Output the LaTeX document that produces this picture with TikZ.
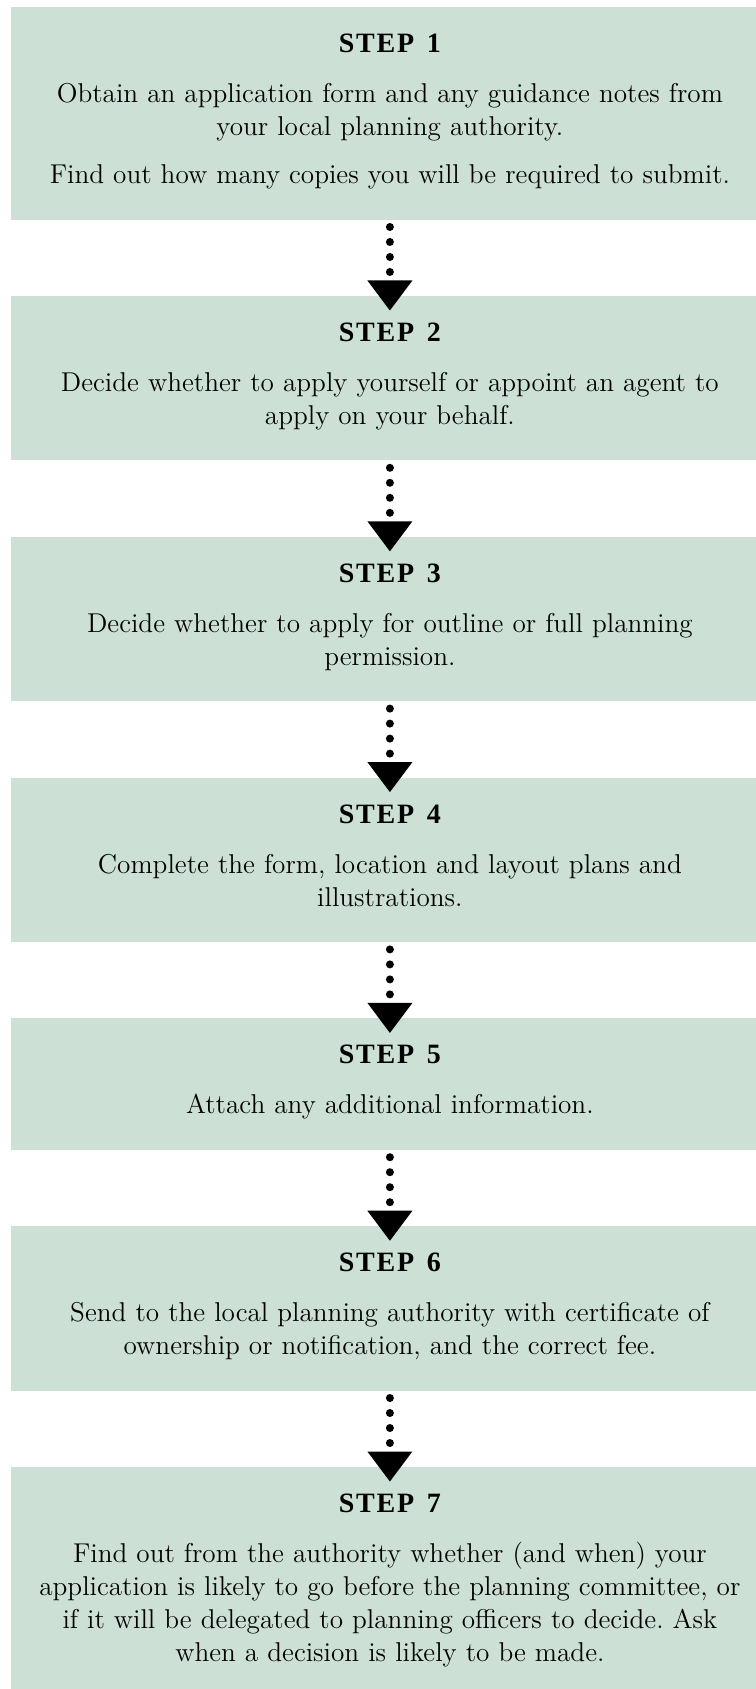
\documentclass[tikz,border=0pt]{standalone}
\usepackage{fontspec}
\setmainfont{Latin Modern Roman}
\newfontfamily\headfont{Liberation Serif}
\usetikzlibrary{arrows.meta, positioning}

\definecolor{boxgreen}{RGB}{204,224,214}
% heading of a step, letter spaced
\newcommand{\stephead}[1]{{\headfont\bfseries\fontsize{14pt}{16pt}\selectfont
  S\kern0.9pt T\kern0.9pt E\kern0.9pt P\kern0.9pt\ \kern0.9pt #1}}
% space above the heading and below the last line
\newcommand{\topgap}{\rule{0pt}{22.75pt}}
\newcommand{\botgap}{\rule[-18pt]{0pt}{0pt}}
\frenchspacing

\tikzset{
  stepbox/.style={fill=boxgreen, text width=368.5pt, inner xsep=5pt, inner ysep=0pt,
    align=center, font=\fontsize{13.6pt}{16.5pt}\selectfont},
  flow/.style={line width=4pt, line cap=round, dash pattern=on 0pt off 7.5pt, dash phase=4pt,
    -{Triangle[width=22.5pt, length=15pt, line width=0pt]}, shorten >=-7.5pt},
  node distance=37.75pt
}

\begin{document}
\begin{tikzpicture}[x=0.5pt, y=0.5pt]
\useasboundingbox (0,0) rectangle (755,-1689);
% Steps
\node[stepbox, anchor=north west] (step1) at (11,-6.7)
  {\topgap\stephead{1}\\[8.5pt]
   Obtain an application form and any guidance notes from\\
   your local planning authority.\\[7.5pt]
   Find out how many copies you will be required to submit.\botgap};
\node[stepbox, below=of step1] (step2)
  {\topgap\stephead{2}\\[8.5pt]
   Decide whether to apply yourself or appoint an agent to\\
   apply on your behalf.\botgap};
\node[stepbox, below=of step2] (step3)
  {\topgap\stephead{3}\\[8.5pt]
   Decide whether to apply for outline or full planning\\
   permission.\botgap};
\node[stepbox, below=of step3] (step4)
  {\topgap\stephead{4}\\[8.5pt]
   Complete the form, location and layout plans and\\
   illustrations.\botgap};
\node[stepbox, below=of step4] (step5)
  {\topgap\stephead{5}\\[8.5pt]
   Attach any additional information.\botgap};
\node[stepbox, below=of step5] (step6)
  {\topgap\stephead{6}\\[8.5pt]
   Send to the local planning authority with certificate of\\
   ownership or notification, and the correct fee.\botgap};
\node[stepbox, below=of step6] (step7)
  {\topgap\stephead{7}\\[8.5pt]
   Find out from the authority whether (and when) your\\
   application is likely to go before the planning committee, or\\
   if it will be delegated to planning officers to decide. Ask\\
   when a decision is likely to be made.\botgap};
% Dotted arrows
\foreach \a/\b in {1/2, 2/3, 3/4, 4/5, 5/6, 6/7}
  \draw[flow] (step\a) -- (step\b);
\end{tikzpicture}
\end{document}
